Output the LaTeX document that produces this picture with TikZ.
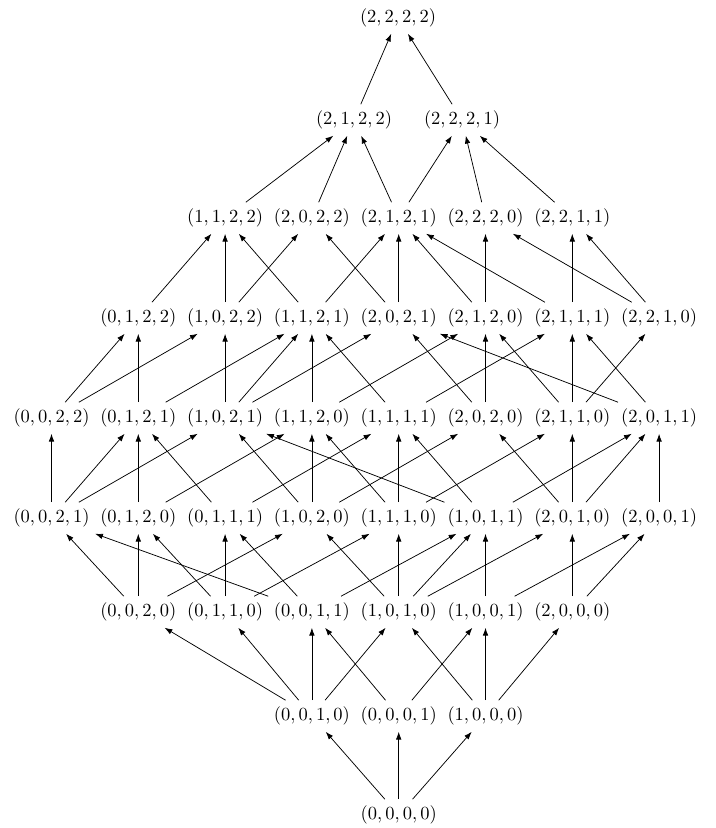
\documentclass[tikz,border=0pt]{standalone}
\usetikzlibrary{arrows.meta}
\begin{document}
\begin{tikzpicture}[x=0.541pt,y=-0.541pt,
  el/.style={inner sep=3.33pt},
  ar/.style={-{Latex[length=4.2pt,width=3pt]},line width=0.4pt}]
\useasboundingbox (0,0) rectangle (715,828);
% columns
\def\ca{51.5}\def\cb{138.3}\def\cc{225.1}\def\cd{311.9}\def\ce{398.7}\def\cf{485.5}\def\cg{572.3}\def\ch{659.1}
% row 0
\node[el] (n2222) at (398,18) {$(2,2,2,2)$};
% row 1
\node[el] (n2122) at (354,120) {$(2,1,2,2)$};
\node[el] (n2221) at (462,120) {$(2,2,2,1)$};
% row 2
\node[el] (n1122) at (\cc,218) {$(1,1,2,2)$};
\node[el] (n2022) at (\cd,218) {$(2,0,2,2)$};
\node[el] (n2121) at (\ce,218) {$(2,1,2,1)$};
\node[el] (n2220) at (\cf,218) {$(2,2,2,0)$};
\node[el] (n2211) at (\cg,218) {$(2,2,1,1)$};
% row 3
\node[el] (n0122) at (\cb,318) {$(0,1,2,2)$};
\node[el] (n1022) at (\cc,318) {$(1,0,2,2)$};
\node[el] (n1121) at (\cd,318) {$(1,1,2,1)$};
\node[el] (n2021) at (\ce,318) {$(2,0,2,1)$};
\node[el] (n2120) at (\cf,318) {$(2,1,2,0)$};
\node[el] (n2111) at (\cg,318) {$(2,1,1,1)$};
\node[el] (n2210) at (\ch,318) {$(2,2,1,0)$};
% row 4
\node[el] (n0022) at (\ca,418) {$(0,0,2,2)$};
\node[el] (n0121) at (\cb,418) {$(0,1,2,1)$};
\node[el] (n1021) at (\cc,418) {$(1,0,2,1)$};
\node[el] (n1120) at (\cd,418) {$(1,1,2,0)$};
\node[el] (n1111) at (\ce,418) {$(1,1,1,1)$};
\node[el] (n2020) at (\cf,418) {$(2,0,2,0)$};
\node[el] (n2110) at (\cg,418) {$(2,1,1,0)$};
\node[el] (n2011) at (\ch,418) {$(2,0,1,1)$};
% row 5
\node[el] (n0021) at (\ca,518) {$(0,0,2,1)$};
\node[el] (n0120) at (\cb,518) {$(0,1,2,0)$};
\node[el] (n0111) at (\cc,518) {$(0,1,1,1)$};
\node[el] (n1020) at (\cd,518) {$(1,0,2,0)$};
\node[el] (n1110) at (\ce,518) {$(1,1,1,0)$};
\node[el] (n1011) at (\cf,518) {$(1,0,1,1)$};
\node[el] (n2010) at (\cg,518) {$(2,0,1,0)$};
\node[el] (n2001) at (\ch,518) {$(2,0,0,1)$};
% row 6
\node[el] (n0020) at (\cb,612) {$(0,0,2,0)$};
\node[el] (n0110) at (\cc,612) {$(0,1,1,0)$};
\node[el] (n0011) at (\cd,612) {$(0,0,1,1)$};
\node[el] (n1010) at (\ce,612) {$(1,0,1,0)$};
\node[el] (n1001) at (\cf,612) {$(1,0,0,1)$};
\node[el] (n2000) at (\cg,612) {$(2,0,0,0)$};
% row 7
\node[el] (n0010) at (\cd,716) {$(0,0,1,0)$};
\node[el] (n0001) at (\ce,716) {$(0,0,0,1)$};
\node[el] (n1000) at (\cf,716) {$(1,0,0,0)$};
% row 8
\node[el] (n0000) at (\ce,815) {$(0,0,0,0)$};

\foreach \a/\b in {
 0000/0010,0000/0001,0000/1000,
 0010/0020,0010/0110,0010/0011,0010/1010,
 0001/0011,0001/1001,
 1000/1010,1000/1001,1000/2000,
 0020/0021,0020/0120,0020/1020,
 0110/0120,0110/0111,0110/1110,
 0011/0021,0011/0111,0011/1011,
 1010/1020,1010/1110,1010/1011,1010/2010,
 1001/1011,1001/2001,
 2000/2010,2000/2001,
 0021/0022,0021/0121,0021/1021,
 0120/0121,0120/1120,
 0111/0121,0111/1111,
 1020/1021,1020/1120,1020/2020,
 1110/1120,1110/1111,1110/2110,
 1011/1021,1011/1111,1011/2011,
 2010/2020,2010/2110,2010/2011,
 2001/2011,
 0022/0122,0022/1022,
 0121/0122,0121/1121,
 1021/1022,1021/1121,1021/2021,
 1120/1121,1120/2120,
 1111/1121,1111/2111,
 2020/2021,2020/2120,
 2110/2120,2110/2111,2110/2210,
 2011/2111,2011/2021,
 0122/1122,
 1022/1122,1022/2022,
 1121/1122,1121/2121,
 2021/2022,2021/2121,
 2120/2121,2120/2220,
 2111/2121,2111/2211,
 2210/2220,2210/2211,
 1122/2122,2022/2122,2121/2122,
 2121/2221,2220/2221,2211/2221,
 2122/2222,2221/2222}
 \draw[ar] (n\a) -- (n\b);
\end{tikzpicture}
\end{document}
